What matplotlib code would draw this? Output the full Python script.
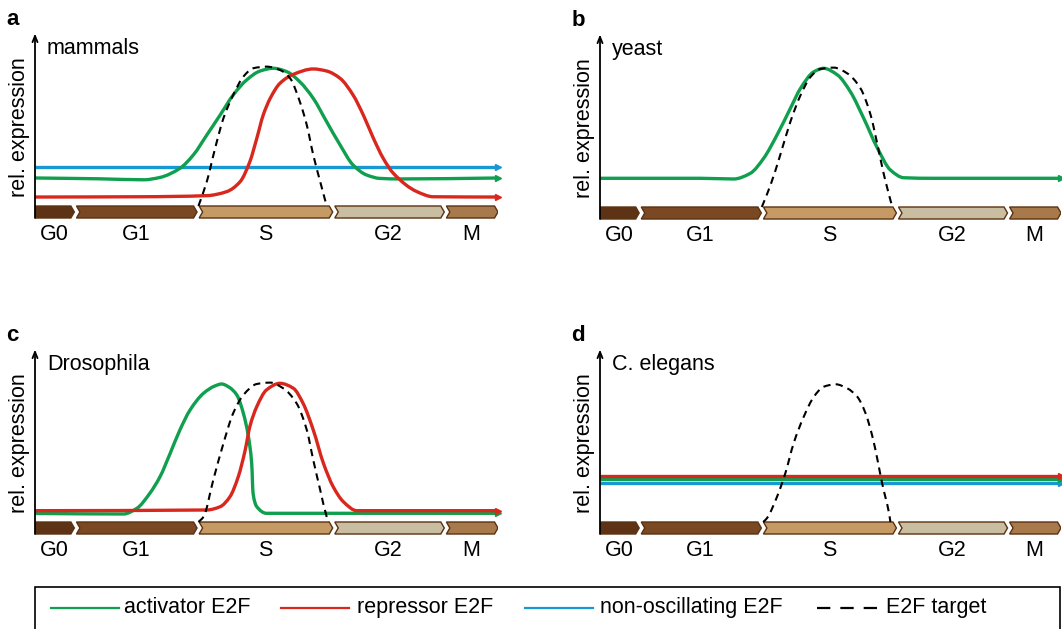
import matplotlib.pyplot as plt
from matplotlib.patches import Polygon, Rectangle, PathPatch
from matplotlib.lines import Line2D
from matplotlib.path import Path

plt.rcParams['font.family'] = ['Liberation Sans', 'DejaVu Sans']

# cell-cycle phases (x axis runs 0..100 over the cycle)
phases = ['G0', 'G1', 'S', 'G2', 'M']
phase_edges = [0, 8.5, 35, 64.3, 88.4, 100]
phase_colors = ['#5e3214', '#7a4823', '#c59a64', '#c9bda2', '#a8794b']

series_names = ['activator E2F', 'repressor E2F', 'non-oscillating E2F', 'E2F target']

# a: mammals
mam_act_t = [0, 14, 23.5, 27, 31.3, 34.2, 37.1, 40, 42.8, 45.7, 48.6, 51.5, 54.4, 57.2,
             60.1, 63, 65.9, 68.7, 71.6, 74.5, 78.8, 100]
mam_act_y = [0.203, 0.197, 0.19, 0.207, 0.273, 0.37, 0.514, 0.66, 0.804, 0.913, 0.978,
             0.998, 0.973, 0.90, 0.78, 0.61, 0.442, 0.297, 0.225, 0.20, 0.196, 0.203]
mam_rep_t = [0, 22.7, 37.1, 41.4, 44.3, 46.4, 47.9, 49.3, 50.8, 52.9, 55.8, 60.1, 63,
             65.9, 68.7, 70.9, 73.1, 75.2, 77.4, 82.5, 86, 100]
mam_rep_y = [0.065, 0.067, 0.075, 0.104, 0.176, 0.321, 0.49, 0.66, 0.78, 0.889, 0.954,
             0.993, 0.978, 0.925, 0.804, 0.66, 0.49, 0.346, 0.237, 0.104, 0.067, 0.065]
mam_non_t = [0, 100]
mam_non_y = [0.28, 0.28]
mam_tgt_t = [35.3, 37.1, 38.9, 40.7, 42.8, 45, 47.1, 50, 52.9, 55.1, 57.2, 58.7, 60.1, 61.6, 63]
mam_tgt_y = [0, 0.176, 0.418, 0.636, 0.804, 0.937, 0.998, 1.01, 0.986, 0.925, 0.756,
             0.587, 0.37, 0.176, 0]

# b: yeast
yst_act_t = [0, 21.7, 29, 32.6, 35.5, 38.4, 41.3, 43.5, 46.4, 48.5, 51.5, 54.3, 57.2,
             60.2, 63, 65.9, 72.5, 100]
yst_act_y = [0.208, 0.208, 0.203, 0.244, 0.353, 0.522, 0.715, 0.86, 0.98, 1.005, 0.957,
             0.836, 0.643, 0.425, 0.268, 0.212, 0.208, 0.208]
yst_tgt_t = [35.1, 37, 39.1, 41.3, 43.5, 45.7, 47.8, 50.7, 53.6, 56.5, 58.7, 60.2, 61.6, 63.4]
yst_tgt_y = [0, 0.16, 0.377, 0.618, 0.81, 0.944, 1.0, 1.01, 0.969, 0.86, 0.667, 0.449,
             0.232, 0]

# c: Drosophila
dro_act_t = [0, 19.1, 22, 24.8, 27, 29.2, 31.3, 33.5, 36.4, 38.8, 40.3, 42, 43.6, 45, 46.1,
             46.8, 47.1, 47.9, 50, 100]
dro_act_y = [0.062, 0.058, 0.099, 0.208, 0.328, 0.498, 0.667, 0.812, 0.933, 0.985, 1.0,
             0.975, 0.92, 0.788, 0.618, 0.425, 0.208, 0.111, 0.063, 0.063]
dro_rep_t = [0, 37.1, 40, 42.1, 43.9, 45.4, 46.4, 47.9, 50, 52.9, 55.8, 57.9, 60.1, 62.3,
             64.4, 66.6, 69.5, 100]
dro_rep_y = [0.082, 0.087, 0.111, 0.183, 0.328, 0.522, 0.691, 0.836, 0.957, 1.005, 0.969,
             0.86, 0.667, 0.425, 0.256, 0.147, 0.082, 0.082]
dro_tgt_t = [35.3, 36.4, 38.5, 40.7, 42.8, 45, 47.9, 50.8, 53.6, 56.5, 58.7, 60.1, 61.6, 63, 63.4]
dro_tgt_y = [0, 0.038, 0.304, 0.57, 0.788, 0.92, 1.0, 1.01, 0.969, 0.86, 0.667, 0.449,
             0.232, 0.038, 0]

# d: C. elegans
ele_act_t = [0, 100]
ele_act_y = [0.31, 0.31]
ele_rep_t = [0, 100]
ele_rep_y = [0.335, 0.335]
ele_non_t = [0, 100]
ele_non_y = [0.285, 0.285]
ele_tgt_t = [35.4, 36.2, 38.4, 40.2, 42, 44.2, 46.4, 48.5, 51.1, 53.6, 55.8, 57.6, 59.1,
             60.2, 61.2, 62.7, 63]
ele_tgt_y = [0, 0.027, 0.183, 0.353, 0.57, 0.763, 0.908, 0.98, 0.998, 0.969, 0.908, 0.788,
             0.618, 0.449, 0.28, 0.063, 0]

GREEN = '#0f9f4e'
RED = '#d8281d'
BLUE = '#1798d2'
BAR_H = 0.087


def curve_path(t, y):
    # smooth bezier path through the read points (monotone hermite tangents)
    n = len(t)
    if n < 3:
        return Path(list(zip(t, y)))
    h = [t[k + 1] - t[k] for k in range(n - 1)]
    d = [(y[k + 1] - y[k]) / h[k] for k in range(n - 1)]
    m = [d[0]] + [0.0] * (n - 2) + [d[-1]]
    for k in range(1, n - 1):
        if d[k - 1] * d[k] > 0:
            w1 = 2 * h[k] + h[k - 1]
            w2 = h[k] + 2 * h[k - 1]
            m[k] = (w1 + w2) / (w1 / d[k - 1] + w2 / d[k])
    verts = [(t[0], y[0])]
    codes = [Path.MOVETO]
    for k in range(n - 1):
        verts += [(t[k] + h[k] / 3, y[k] + m[k] * h[k] / 3),
                  (t[k + 1] - h[k] / 3, y[k + 1] - m[k + 1] * h[k] / 3),
                  (t[k + 1], y[k + 1])]
        codes += [Path.CURVE4] * 3
    return Path(verts, codes)


def draw_panel(ax, letter, title, curves, target):
    ax.set_xlim(0, 100)
    ax.set_ylim(-0.1, 1.25)
    ax.axis('off')

    # phase bar made of chevrons
    for i, name in enumerate(phases):
        x0 = phase_edges[i] + (0.45 if i else 0)
        x1 = phase_edges[i + 1]
        d = 0.75
        pts = [(x0, -BAR_H), (x1 - d, -BAR_H), (x1, -BAR_H / 2), (x1 - d, 0), (x0, 0)]
        if i:
            pts.append((x0 + d, -BAR_H / 2))
        ax.add_patch(Polygon(pts, closed=True, facecolor=phase_colors[i],
                             edgecolor='#5a3212', lw=1.0, zorder=2))
        ax.text((phase_edges[i] + phase_edges[i + 1]) / 2, -0.245, name,
                ha='center', va='baseline', fontsize=15.5, clip_on=False)

    # y axis arrow
    ax.annotate('', xy=(0, 1.25), xytext=(0, -BAR_H),
                arrowprops=dict(arrowstyle='->,head_length=0.45,head_width=0.18',
                                lw=1.3, color='black', shrinkA=0, shrinkB=0),
                annotation_clip=False, zorder=5)

    for t, y, c in curves:
        ax.add_patch(PathPatch(curve_path(t, y), fill=False, edgecolor=c, lw=2.4,
                               capstyle='butt', joinstyle='round', zorder=3))
        ax.plot([t[-1]], [y[-1]], marker='>', ms=5, color=c, zorder=3, clip_on=False)
    ax.add_patch(PathPatch(curve_path(*target), fill=False, edgecolor='black', lw=1.5,
                           ls=(0, (3.5, 2.5)), zorder=4))

    ax.text(2.6, 1.10, title, fontsize=15.5, va='baseline', ha='left', clip_on=False)
    ax.text(-3.3, 0.57, 'rel. expression', rotation=90, fontsize=15.5,
            ha='center', va='center', clip_on=False)
    ax.text(-6.2, 1.31, letter, fontsize=16, fontweight='bold', va='baseline',
            ha='left', clip_on=False)


W, H = 1062, 629
fig = plt.figure(figsize=(W / 100, H / 100), dpi=100)

def px_axes(left, bar_top, width):
    bottom_px = bar_top + 0.1 * 138
    top_px = bar_top - 1.25 * 138
    return fig.add_axes([left / W, 1 - bottom_px / H, width / W, (bottom_px - top_px) / H])

ax_a = px_axes(35, 206, 463)
ax_b = px_axes(600, 207, 461)
ax_c = px_axes(35, 522, 463)
ax_d = px_axes(600, 522, 461)

draw_panel(ax_a, 'a', 'mammals',
           [(mam_non_t, mam_non_y, BLUE), (mam_act_t, mam_act_y, GREEN),
            (mam_rep_t, mam_rep_y, RED)], (mam_tgt_t, mam_tgt_y))
draw_panel(ax_b, 'b', 'yeast',
           [(yst_act_t, yst_act_y, GREEN)], (yst_tgt_t, yst_tgt_y))
draw_panel(ax_c, 'c', 'Drosophila',
           [(dro_act_t, dro_act_y, GREEN), (dro_rep_t, dro_rep_y, RED)],
           (dro_tgt_t, dro_tgt_y))
draw_panel(ax_d, 'd', 'C. elegans',
           [(ele_non_t, ele_non_y, BLUE), (ele_act_t, ele_act_y, GREEN),
            (ele_rep_t, ele_rep_y, RED)], (ele_tgt_t, ele_tgt_y))

# legend box along the bottom
fig.add_artist(Rectangle((35 / W, -0.05), (1060 - 35) / W, 0.05 + (H - 587) / H,
                         transform=fig.transFigure, facecolor='none',
                         edgecolor='black', lw=1.2))
ly = 1 - 607.5 / H
leg = [(51, 119, 124, GREEN, '-'), (281, 349, 357, RED, '-'),
       (525, 593, 600, BLUE, '-'), (817, 882, 886, 'black', (0, (6, 4.5)))]
for (x0, x1, xt, c, ls), name in zip(leg, series_names):
    fig.add_artist(Line2D([x0 / W, x1 / W], [ly, ly], transform=fig.transFigure,
                          color=c, lw=1.6, ls=ls))
    fig.text(xt / W, ly, name, fontsize=15.5, va='center', ha='left')

fig.savefig('out.png', dpi=100)
